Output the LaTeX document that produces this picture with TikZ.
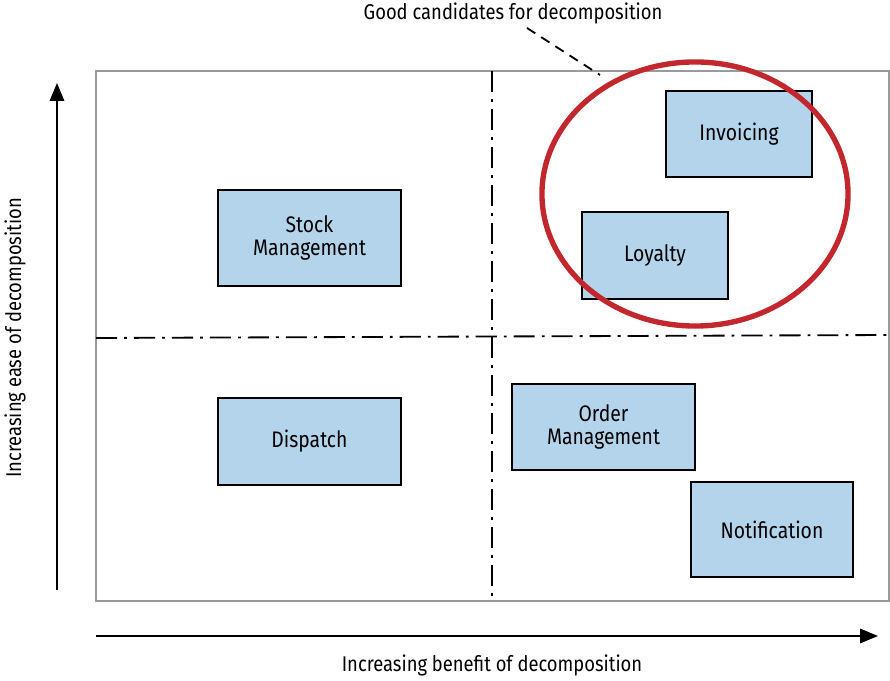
\documentclass[tikz,border=0pt]{standalone}
\usepackage{fontspec}
\setmainfont[FakeStretch=0.86]{Fira Sans}
\usepackage{tikz}
\usetikzlibrary{arrows.meta,positioning,calc,shapes.geometric}
\definecolor{boxfill}{HTML}{B4D4EC}
\definecolor{ringred}{HTML}{C1272D}
\definecolor{framegray}{HTML}{9A9A9A}
\tikzset{
  svc/.style    = {draw,line width=1.4pt,fill=boxfill,align=center,
                   font=\fontsize{16}{17}\selectfont,inner sep=0pt},
  quad/.style   = {line width=1.3pt,dash pattern=on 15pt off 5pt on 2pt off 5pt},
  axis/.style   = {-{Triangle[length=4.5mm,width=3.6mm]},line width=1.5pt},
  lbl/.style    = {font=\fontsize{15.2}{17}\selectfont,inner sep=0pt},
}
\begin{document}
\begin{tikzpicture}[x=0.025cm,y=-0.025cm]
  \useasboundingbox (0,0) rectangle (890,681);
  % frame and quadrants
  \draw[framegray,line width=1.6pt] (96,71) rectangle (889,601);
  \coordinate (vtop) at (492,71);
  \coordinate (vbot) at (492,601);
  \coordinate (hl) at (96,338);
  \coordinate (hr) at (889,335);
  \draw[quad] (vtop) -- (vbot);
  \draw[quad] (hl) -- (hr);
  % axes
  \coordinate (ya) at (57,590);
  \coordinate (yb) at (57,83);
  \coordinate (xa) at (96,636);
  \coordinate (xb) at (878,636);
  \draw[axis] (ya) -- (yb);
  \draw[axis] (xa) -- (xb);
  \node[lbl,rotate=90] (ylbl) at (15,338) {Increasing ease of decomposition};
  \node[lbl] (xlbl) at (492,665) {Increasing benefit of decomposition};
  % services
  \node[svc,minimum width=4.575cm,minimum height=2.4cm] (stock) at (309.5,238) {Stock\\Management};
  \node[svc,minimum width=4.575cm,minimum height=2.175cm] (dispatch) at (309.5,441.5) {Dispatch};
  \node[svc,minimum width=3.65cm,minimum height=2.15cm] (invoicing) at (739,134) {Invoicing};
  \node[svc,minimum width=3.65cm,minimum height=2.175cm] (loyalty) at (655,255.5) {Loyalty};
  \node[svc,minimum width=4.575cm,minimum height=2.15cm] (order) at (603.5,427) {Order\\Management};
  \node[svc,minimum width=4.05cm,minimum height=2.375cm] (notify) at (772,529.5) {Notification};
  % candidates ring
  \node[draw=ringred,line width=3.8pt,ellipse,minimum width=7.65cm,minimum height=6.6cm,inner sep=0pt] (ring) at (695,194) {};
  \node[lbl] (good) at (513,13) {Good candidates for decomposition};
  \coordinate (ringtip) at (600,75);
  \draw[line width=1.3pt,dash pattern=on 7pt off 5pt] (527,28) -- (ringtip);
\end{tikzpicture}
\end{document}
